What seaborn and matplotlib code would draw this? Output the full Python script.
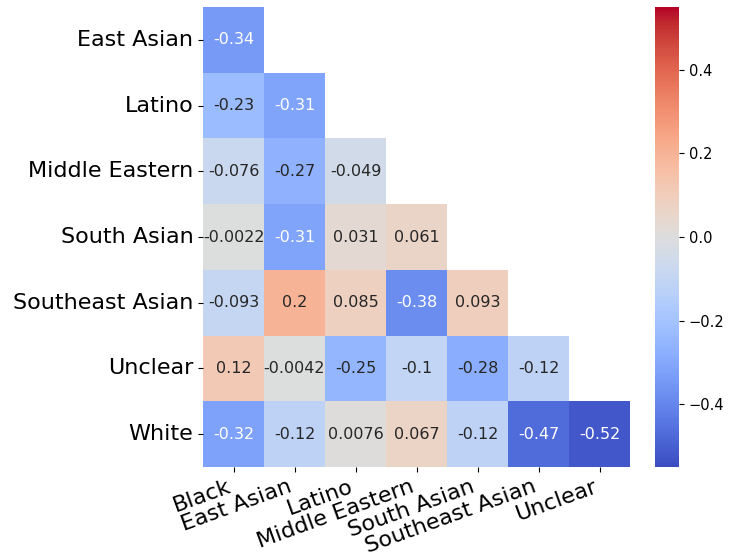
import numpy as np
import pandas as pd
from matplotlib import pyplot as plt
import seaborn as sns

row_labels = ["East Asian", "Latino", "Middle Eastern", "South Asian",
              "Southeast Asian", "Unclear", "White"]
col_labels = ["Black", "East Asian", "Latino", "Middle Eastern",
              "South Asian", "Southeast Asian", "Unclear"]

# lower triangle, one list per row
east_asian = [-0.34]
latino = [-0.23, -0.31]
middle_eastern = [-0.076, -0.27, -0.049]
south_asian = [-0.0022, -0.31, 0.031, 0.061]
southeast_asian = [-0.093, 0.2, 0.085, -0.38, 0.093]
unclear = [0.12, -0.0042, -0.25, -0.1, -0.28, -0.12]
white = [-0.32, -0.12, 0.0076, 0.067, -0.12, -0.47, -0.52]

rows = [east_asian, latino, middle_eastern, south_asian,
        southeast_asian, unclear, white]
mat = np.full((len(row_labels), len(col_labels)), np.nan)
for i, r in enumerate(rows):
    mat[i, :len(r)] = r
df = pd.DataFrame(mat, index=row_labels, columns=col_labels)

fig = plt.figure(figsize=(7.29, 5.57), dpi=100)
W, H = 729, 557
ax = fig.add_axes([203 / W, 1 - 467 / H, (630 - 203) / W, (467 - 7) / H])
cax = fig.add_axes([655 / W, 1 - 467 / H, 24 / W, (467 - 7) / H])

sns.heatmap(df, ax=ax, cbar_ax=cax, cmap="coolwarm", vmin=-0.55, vmax=0.55,
            annot=True, annot_kws={"size": 11.5}, mask=df.isna())
ax.set_yticklabels(row_labels, rotation=0, fontsize=16)
ax.set_xticklabels(col_labels, rotation=20, ha="right", fontsize=16)
cax.tick_params(labelsize=10.5)

fig.savefig("out.png", dpi=100)
